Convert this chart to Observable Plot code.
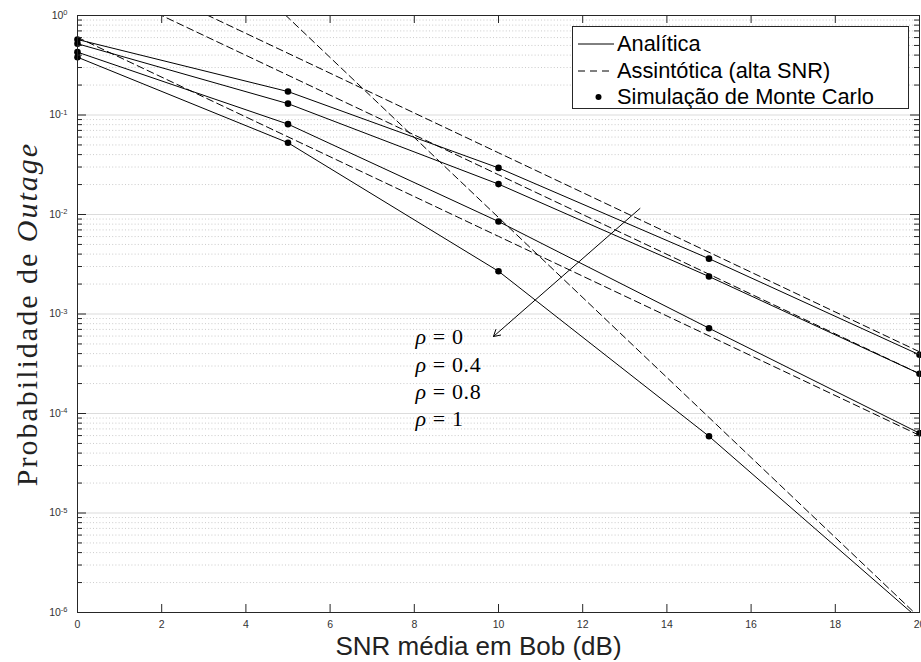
<!DOCTYPE html>
<html>
<head>
<meta charset="utf-8">
<script src="https://cdn.jsdelivr.net/npm/d3@7"></script>
<script src="https://cdn.jsdelivr.net/npm/@observablehq/plot@0.6"></script>
<style>
  body { margin: 0; background: #fff; }
  #wrap { position: relative; width: 921px; height: 662px; overflow: hidden; }
  #legend {
    position: absolute; left: 572px; top: 26px; width: 335px; height: 81px;
    border: 1px solid #262626; background: #fff;
    font-family: "Liberation Sans", Arial, Helvetica, sans-serif; font-size: 21.8px; color: #000;
  }
  #legend .row { position: absolute; left: 0; height: 26px; display: flex; align-items: center; white-space: nowrap; }
  #legend svg { display: block; }
</style>
</head>
<body>
<div id="wrap">
  <div id="chart"></div>
  <div id="legend"></div>
</div>
<script>
// ---- data ----
const snr = [0, 5, 10, 15, 20];                 // SNR média em Bob (dB)
const rhoValues = ["0", "0.4", "0.8", "1"];

// Analítica (and Monte Carlo points, which sit on it)
const analiticaRho0  = [0.574, 0.172, 0.0294, 0.0036, 3.89e-4];
const analiticaRho04 = [0.520, 0.130, 0.0202, 0.00238, 2.51e-4];
const analiticaRho08 = [0.428, 0.0809, 0.0085, 7.2e-4, 6.34e-5];
const analiticaRho1  = [0.381, 0.0526, 0.00269, 5.9e-5, 8.5e-7];

// Assintótica (alta SNR)
const assintRho0  = [4.17, 0.417, 0.0417, 0.00417, 4.17e-4];
const assintRho04 = [2.51, 0.251, 0.0251, 0.00251, 2.51e-4];
const assintRho08 = [0.603, 0.0603, 0.00603, 6.03e-4, 6.03e-5];
const assintRho1  = [95.5, 0.955, 0.00933, 9.12e-5, 8.9e-7];

// ticks
const xTicks = [0, 2, 4, 6, 8, 10, 12, 14, 16, 18, 20];
const yDecades = [1, 1e-1, 1e-2, 1e-3, 1e-4, 1e-5, 1e-6];

// annotation (data units)
const arrowFrom = [13.36, 0.0115];
const arrowTo = [9.88, 5.94e-4];
const rhoLabelX = 8.03;
const rhoLabelY = [5.85e-4, 3.1e-4, 1.64e-4, 8.85e-5];

const legendItems = ["Analítica", "Assintótica (alta SNR)", "Simulação de Monte Carlo"];
const xLabel = "SNR média em Bob (dB)";
const yLabel = "Probabilidade de Outage";

// ---- build tables ----
const analiticaSeries = [analiticaRho0, analiticaRho04, analiticaRho08, analiticaRho1];
const assintSeries = [assintRho0, assintRho04, assintRho08, assintRho1];
const toRows = (series) => series.flatMap((vals, i) => vals.map((p, j) => ({snr: snr[j], p, rho: rhoValues[i]})));
const analiticaRows = toRows(analiticaSeries);
const assintRows = toRows(assintSeries);
const yMinor = [];
for (let e = -6; e < 0; e++) for (let k = 2; k <= 9; k++) yMinor.push(k * Math.pow(10, e));
const rhoRows = rhoValues.map((v, i) => ({x: rhoLabelX, y: rhoLabelY[i], t: `ρ = ${v}`}));

const W = 921, H = 662, mL = 77, mR = 2, mT = 15, mB = 50;
const plotW = W - mL - mR, plotH = H - mT - mB;
const ink = "#262626";
const serif = "'Liberation Serif', 'Times New Roman', serif";

const chart = Plot.plot({
  width: W, height: H,
  marginLeft: mL, marginRight: mR, marginTop: mT, marginBottom: mB,
  style: {fontFamily: "'Liberation Sans', Arial, Helvetica, sans-serif", fontSize: "10.5px", color: "#333", background: "#fff"},
  x: {domain: [0, 20]},
  y: {type: "log", domain: [1e-6, 1]},
  marks: [
    Plot.ruleY(yMinor, {stroke: "#a8a8a8", strokeWidth: 0.8, strokeDasharray: "1,2.2", strokeOpacity: 0.75}),
    Plot.ruleY(yDecades, {stroke: "#dcdcdc", strokeWidth: 1.2}),
    Plot.line(assintRows, {x: "snr", y: "p", z: "rho", stroke: "#000", strokeWidth: 1, strokeDasharray: "7,4", clip: true}),
    Plot.line(analiticaRows, {x: "snr", y: "p", z: "rho", stroke: "#000", strokeWidth: 1, clip: true}),
    Plot.dot(analiticaRows, {x: "snr", y: "p", r: 3.3, fill: "#000", stroke: "none", filter: d => d.p >= 1e-6 && d.p <= 1}),
    Plot.arrow([0], {x1: () => arrowFrom[0], y1: () => arrowFrom[1], x2: () => arrowTo[0], y2: () => arrowTo[1], stroke: "#000", strokeWidth: 1, headLength: 11}),
    Plot.text(rhoRows, {x: "x", y: "y", text: "t", textAnchor: "start", lineAnchor: "middle", fontSize: 22, fontFamily: serif, fill: "#000"}),
    // ticks (inward)
    Plot.tickX(xTicks, {x: d => d, insetTop: plotH - 8, stroke: ink}),
    Plot.tickX(xTicks, {x: d => d, insetBottom: plotH - 8, stroke: ink}),
    Plot.tickY(yDecades, {y: d => d, insetRight: plotW - 9, stroke: ink}),
    Plot.tickY(yDecades, {y: d => d, insetLeft: plotW - 9, stroke: ink}),
    Plot.tickY(yMinor, {y: d => d, insetRight: plotW - 5, stroke: ink}),
    Plot.tickY(yMinor, {y: d => d, insetLeft: plotW - 5, stroke: ink}),
    Plot.frame({stroke: ink, strokeWidth: 1}),
    Plot.axisX({ticks: xTicks, anchor: "bottom", tickSize: 0, tickPadding: 8, label: null, fontSize: 10.5, tickFormat: d => String(d)}),
    Plot.axisY({ticks: yDecades, anchor: "left", tickSize: 0, tickPadding: 10, label: null, fontSize: 10.5, tickFormat: d => "10^" + Math.round(Math.log10(d))}),
    Plot.text([xLabel], {frameAnchor: "bottom", textAnchor: "middle", dy: 34, dx: -20, lineAnchor: "middle", fontSize: 26, fill: "#222"}),
    Plot.text([yLabel], {frameAnchor: "left", textAnchor: "middle", dx: -50, rotate: -90, lineAnchor: "middle", fontSize: 30, fill: "#222", fontFamily: serif})
  ]
});
document.getElementById("chart").appendChild(chart);

// ---- typographic touch-ups on the real text ----
d3.select(chart).selectAll("text").each(function () {
  const el = d3.select(this);
  const s = this.textContent;
  let m = /^10\^(-?\d+)$/.exec(s);
  if (m) {
    el.text("10");
    el.append("tspan").attr("dy", "-0.5em").attr("font-size", "7.5px").text(m[1]);
    return;
  }
  if (s === yLabel) {
    el.text("Probabilidade de ").style("letter-spacing", "2px");
    el.append("tspan").attr("font-style", "italic").text("Outage");
    return;
  }
  m = /^ρ = (.*)$/.exec(s);
  if (m) {
    el.text("").style("letter-spacing", "0.6px");
    el.append("tspan").attr("font-style", "italic").text("ρ");
    el.append("tspan").text(" = " + m[1]);
  }
});

// ---- legend ----
const legend = d3.select("#legend");
const rowTops = [4, 31, 57];
legendItems.forEach((label, i) => {
  const row = legend.append("div").attr("class", "row").style("top", rowTops[i] + "px");
  const s = row.append("svg").attr("width", 44).attr("height", 26);
  if (i === 0) s.append("line").attr("x1", 5).attr("x2", 41).attr("y1", 13).attr("y2", 13).attr("stroke", "#000").attr("stroke-width", 1);
  if (i === 1) s.append("line").attr("x1", 5).attr("x2", 41).attr("y1", 13).attr("y2", 13).attr("stroke", "#000").attr("stroke-width", 1).attr("stroke-dasharray", "7,5");
  if (i === 2) s.append("circle").attr("cx", 25.5).attr("cy", 13).attr("r", 3).attr("fill", "#000");
  row.append("span").text(label);
});
</script>
</body>
</html>
